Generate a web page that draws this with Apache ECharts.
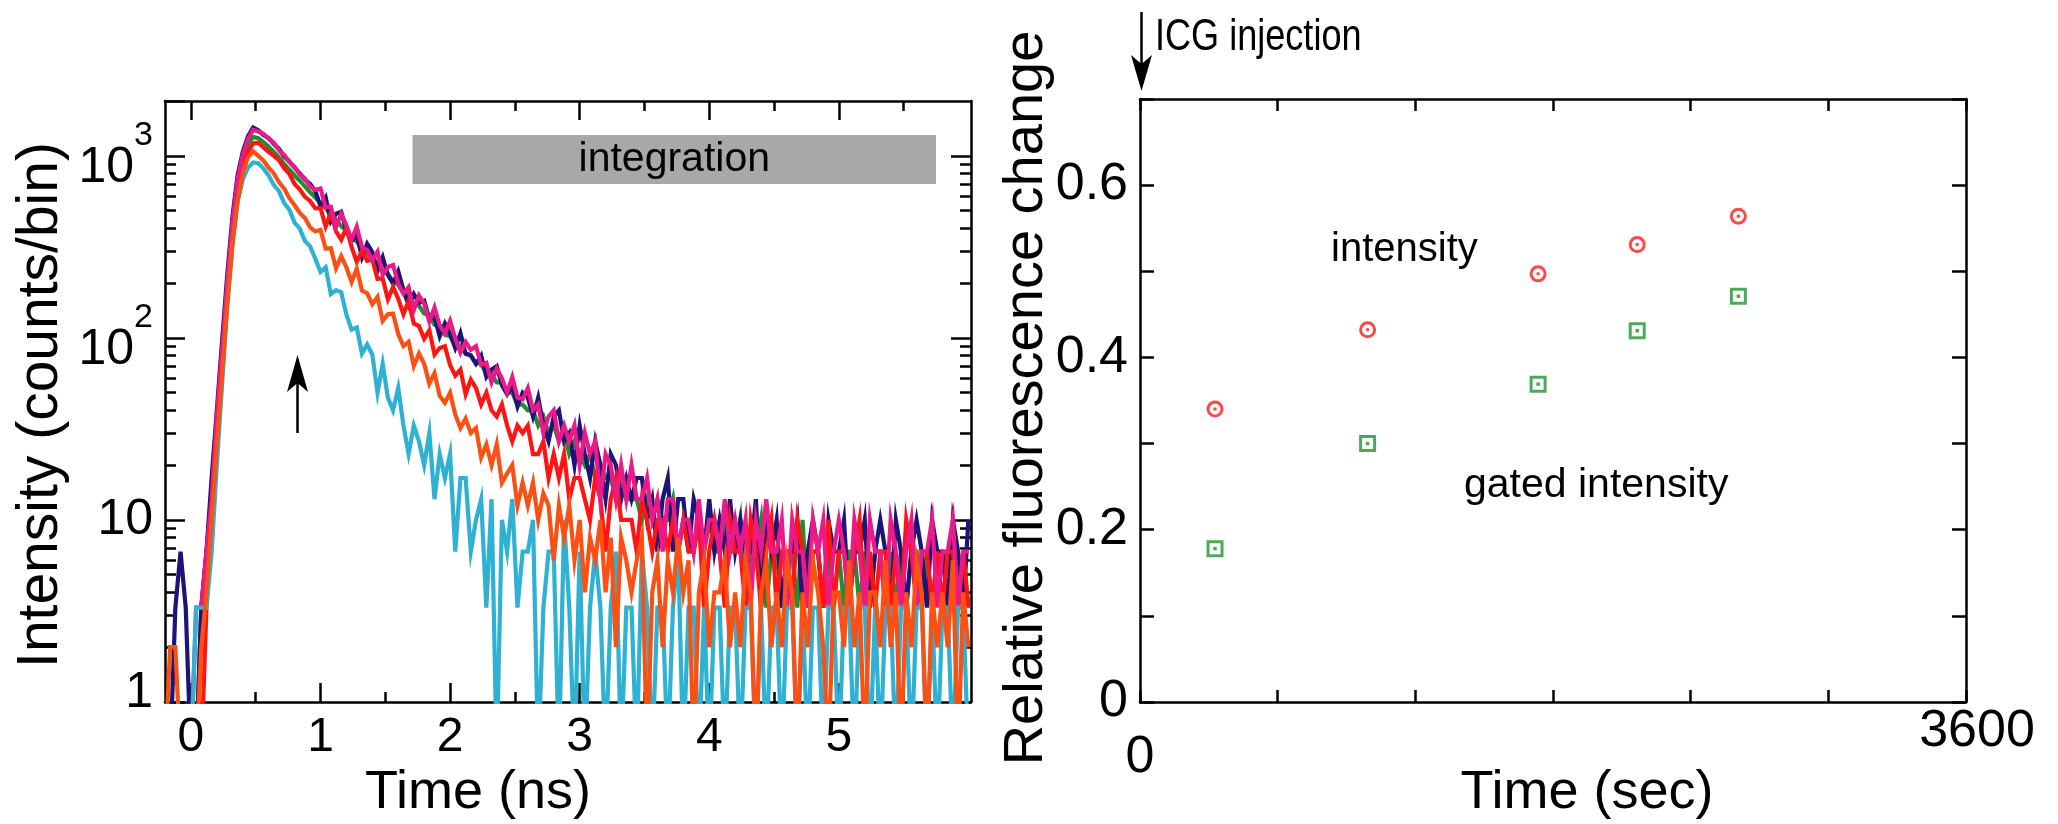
<!DOCTYPE html>
<html>
<head>
  <meta charset="UTF-8">
  <title>ICG fluorescence decay and relative change</title>
  <script src="https://cdn.jsdelivr.net/npm/echarts@6/dist/echarts.min.js"></script>
  <style>html, body { margin: 0; padding: 0; background: #fff; }</style>
</head>
<body>
  <div id="main" style="width: 2058px; height: 824px;"></div>

  <script>
    // decay histograms: counts per bin, bins start at -0.2 ns, 0.04 ns wide
    const binStart = -0.2;
    const binWidth = 0.04;

    const greenCounts = [
      0, 0, 0, 0, 0, 0, 0, 3.3, 6.7, 13,
      33, 80, 190, 400, 690, 950, 1150, 1270, 1250, 1190,
      1120, 1050, 980, 900, 840, 780, 730, 680, 630, 590,
      550, 515, 475, 445, 410, 388, 356, 338, 308, 292,
      270, 258, 234, 225, 204, 196, 176, 172, 154, 150,
      136, 133, 118, 117, 104, 102, 92, 91, 82, 80,
      72, 73, 63, 63, 57, 57, 50, 50, 43, 43,
      40, 40, 33, 37, 30, 33, 27, 30, 23, 27,
      23, 20, 23, 17, 20, 17, 17, 13, 17, 13,
      13, 13, 10, 13, 10, 13, 10, 10, 13, 6.7,
      10, 10, 6.7, 10, 6.7, 10, 6.7, 6.7, 10, 6.7,
      6.7, 10, 3.3, 6.7, 6.7, 10, 3.3, 6.7, 6.7, 3.3,
      6.7, 6.7, 3.3, 10, 3.3, 6.7, 6.7, 3.3, 6.7, 3.3,
      6.7, 3.3, 6.7, 6.7, 3.3, 6.7, 3.3, 6.7, 6.7, 3.3,
      6.7, 3.3, 6.7, 3.3, 6.7, 6.7, 3.3, 6.7, 3.3, 6.7,
      3.3, 6.7, 6.7, 3.3, 6.7, 3.3
    ];
    const navyCounts = [
      0, 0, 3.3, 6.7, 3.3, 0, 0, 3.3, 6.7, 17,
      40, 95, 220, 460, 780, 1050, 1280, 1430, 1380, 1300,
      1250, 1160, 1090, 990, 930, 860, 800, 740, 700, 640,
      529, 589, 436, 480, 492, 388, 340, 367, 277, 329,
      296, 234, 277, 221, 199, 232, 183, 151, 174, 156,
      160, 127, 130, 102, 120, 105, 88, 106, 82, 80,
      72, 80, 61, 67, 70, 55, 49, 54, 42, 50,
      47, 37, 47, 33, 27, 37, 40, 27, 30, 20,
      33, 23, 17, 27, 20, 13, 23, 20, 13, 17,
      13, 17, 17, 10, 13, 6.7, 13, 17, 6.7, 13,
      13, 6.7, 13, 10, 6.7, 13, 6.7, 10, 6.7, 13,
      6.7, 10, 6.7, 6.7, 13, 3.3, 10, 6.7, 10, 3.3,
      6.7, 6.7, 10, 3.3, 6.7, 10, 6.7, 3.3, 10, 6.7,
      6.7, 10, 3.3, 6.7, 6.7, 10, 3.3, 6.7, 10, 6.7,
      3.3, 10, 6.7, 3.3, 6.7, 10, 6.7, 3.3, 10, 6.7,
      6.7, 3.3, 10, 6.7, 3.3, 10
    ];
    const redCounts = [
      0, 0, 0, 0, 0, 0, 0, 0, 3.3, 10,
      27, 65, 160, 340, 600, 850, 1050, 1170, 1180, 1110,
      1050, 1000, 945, 855, 795, 700, 655, 595, 565, 515,
      517, 409, 486, 384, 346, 401, 316, 261, 300, 265,
      269, 211, 212, 163, 190, 164, 135, 159, 120, 116,
      99, 110, 81, 88, 90, 71, 62, 67, 49, 59,
      53, 43, 50, 40, 37, 43, 33, 27, 33, 30,
      33, 23, 23, 27, 17, 23, 17, 23, 13, 17,
      17, 13, 10, 17, 13, 6.7, 13, 17, 10, 10,
      10, 6.7, 13, 10, 6.7, 10, 10, 6.7, 10, 6.7,
      10, 6.7, 6.7, 10, 3.3, 6.7, 10, 6.7, 3.3, 10,
      6.7, 6.7, 3.3, 10, 6.7, 3.3, 6.7, 10, 3.3, 6.7,
      6.7, 3.3, 10, 6.7, 3.3, 6.7, 6.7, 3.3, 10, 3.3,
      6.7, 6.7, 3.3, 6.7, 10, 3.3, 6.7, 3.3, 6.7, 6.7,
      3.3, 6.7, 3.3, 10, 6.7, 3.3, 6.7, 6.7, 3.3, 6.7,
      3.3, 6.7, 6.7, 3.3, 6.7, 3.3
    ];
    const pinkCounts = [
      0, 0, 0, 0, 0, 0, 3.3, 3.3, 6.7, 13,
      37, 85, 200, 430, 740, 1010, 1240, 1390, 1360, 1320,
      1240, 1180, 1070, 1010, 920, 870, 790, 750, 680, 650,
      661, 522, 525, 408, 481, 414, 346, 408, 315, 304,
      267, 297, 222, 245, 251, 199, 175, 190, 142, 171,
      154, 123, 147, 117, 106, 124, 99, 83, 95, 86,
      90, 71, 73, 57, 68, 60, 50, 61, 47, 46,
      53, 40, 43, 30, 37, 40, 27, 33, 27, 33,
      20, 30, 23, 27, 13, 23, 20, 13, 20, 13,
      20, 13, 13, 17, 10, 13, 6.7, 13, 13, 6.7,
      10, 10, 6.7, 13, 6.7, 10, 10, 6.7, 13, 6.7,
      10, 6.7, 10, 3.3, 10, 6.7, 13, 6.7, 6.7, 10,
      3.3, 10, 6.7, 6.7, 3.3, 10, 6.7, 10, 3.3, 6.7,
      10, 6.7, 3.3, 10, 6.7, 3.3, 10, 6.7, 6.7, 3.3,
      10, 6.7, 3.3, 6.7, 10, 3.3, 6.7, 6.7, 10, 3.3,
      6.7, 6.7, 10, 3.3, 6.7, 6.7
    ];
    const cyanCounts = [
      0, 0, 0, 0, 0, 0, 3.3, 3.3, 3.3, 6.7,
      20, 55, 150, 330, 560, 740, 860, 920, 910, 850,
      780, 690, 640, 550, 505, 430, 398, 340, 318, 272,
      230, 244, 174, 183, 178, 134, 111, 114, 82, 92,
      81, 50, 72, 47, 40, 53, 33, 23, 33, 27,
      20, 30, 13, 23, 17, 23, 6.7, 17, 17, 6.7,
      10, 13, 3.3, 13, 0, 10, 6.7, 13, 3.3, 6.7,
      6.7, 10, 0, 3.3, 6.7, 6.7, 0, 10, 3.3, 0,
      6.7, 0, 3.3, 6.7, 3.3, 0, 3.3, 6.7, 0, 3.3,
      3.3, 0, 6.7, 3.3, 0, 3.3, 3.3, 0, 3.3, 6.7,
      0, 3.3, 3.3, 0, 3.3, 0, 3.3, 3.3, 0, 3.3,
      3.3, 0, 3.3, 3.3, 0, 3.3, 0, 3.3, 3.3, 0,
      3.3, 3.3, 0, 3.3, 0, 3.3, 3.3, 0, 3.3, 3.3,
      0, 3.3, 3.3, 0, 3.3, 3.3, 0, 3.3, 0, 3.3,
      3.3, 0, 3.3, 3.3, 0, 3.3, 3.3, 0, 3.3, 0,
      3.3, 3.3, 0, 3.3, 3.3, 0
    ];
    const orangeCounts = [
      0, 2, 2, 0, 0, 0, 0, 2, 4, 10,
      26, 62, 150, 320, 560, 800, 980, 1060, 1000, 940,
      860, 800, 715, 660, 585, 535, 486, 455, 404, 384,
      392, 309, 311, 241, 281, 244, 203, 240, 182, 176,
      153, 168, 124, 135, 136, 105, 90, 95, 70, 82,
      72, 56, 64, 48, 44, 50, 38, 32, 36, 30,
      32, 22, 26, 20, 26, 16, 18, 20, 12, 16,
      12, 16, 10, 14, 12, 6, 12, 8, 12, 6,
      10, 4, 8, 6, 10, 4, 8, 2, 8, 6,
      4, 6, 8, 0, 4, 6, 2, 6, 4, 8,
      4, 6, 0, 4, 6, 2, 4, 4, 6, 2,
      4, 2, 6, 4, 0, 4, 6, 2, 4, 2,
      6, 4, 0, 4, 2, 6, 4, 2, 0, 4,
      4, 2, 6, 2, 4, 0, 4, 4, 2, 6,
      2, 4, 0, 4, 2, 6, 4, 0, 4, 2,
      4, 2, 6, 0, 4, 2
    ];

    // tick positions of the decay plot
    const nsMajorTicks = [0, 1, 2, 3, 4, 5];
    const nsMinorTicks = [0.5, 1.5, 2.5, 3.5, 4.5, 5.5];
    const countDecades = [1, 10, 100, 1000];
    const countMinor = [2, 3, 4, 5, 6, 7, 8, 9, 20, 30, 40, 50, 60, 70, 80, 90,
      200, 300, 400, 500, 600, 700, 800, 900];

    // relative fluorescence change after injection
    const injTimeSec = [327, 992, 1735, 2167, 2608];
    const intensityChange = [0.340, 0.432, 0.497, 0.531, 0.564];
    const gatedChange = [0.178, 0.300, 0.369, 0.431, 0.471];
    const secLabels = [0, 3600];
    const changeLabels = [0, 0.2, 0.4, 0.6];

    const FONT = '"Liberation Sans", Arial, Helvetica, sans-serif';
    const countMax = 2000;
    const logTop = Math.log10(countMax);
    const line = { color: '#000', width: 2.5 };

    const traces = [
      { name: 'green', color: '#1f8f2f', counts: greenCounts },
      { name: 'navy', color: '#1c1478', counts: navyCounts },
      { name: 'red', color: '#ff1414', counts: redCounts },
      { name: 'pink', color: '#ec1a86', counts: pinkCounts },
      { name: 'cyan', color: '#2eb1d2', counts: cyanCounts },
      { name: 'orange', color: '#fa5014', counts: orangeCounts }
    ];

    const decaySeries = traces.map((t, k) => ({
      name: t.name,
      type: 'line',
      xAxisIndex: 0,
      yAxisIndex: 0,
      showSymbol: false,
      clip: true,
      lineStyle: { color: t.color, width: 4.2, join: 'miter' },
      itemStyle: { color: t.color },
      // empty bins sit under the axis floor so the trace drops out of the frame
      data: t.counts.map((v, i) => [+(binStart + i * binWidth).toFixed(2), v > 0 ? v : 0.5]),
      markArea: k === 0 ? {
        silent: true,
        itemStyle: { color: '#a8a8a8', opacity: 1 },
        label: { show: true, position: 'inside', formatter: 'integration', fontSize: 41, fontFamily: FONT, color: '#000' },
        data: [[{ xAxis: 1.71, yAxis: 1300 }, { xAxis: 5.75, yAxis: 700 }]]
      } : undefined
    }));

    const pairs = (ys) => injTimeSec.map((x, i) => [x, ys[i]]);

    function tickAxis(extra) {
      return Object.assign({
        type: 'value',
        axisLine: { show: false, onZero: false },
        axisLabel: { show: false },
        splitLine: { show: false }
      }, extra);
    }

    const logLabel = (v) => {
      const e = Math.round(Math.log10(v));
      if (Math.abs(Math.log10(v) - e) > 1e-6) return '';
      if (e === 0) return '{u|1}';
      if (e === 1) return '10';
      return '{b|10}{s|' + e + '}';
    };

    const option = {
      animation: false,
      backgroundColor: '#fff',
      textStyle: { fontFamily: FONT },
      grid: [
        { left: 165, top: 101, width: 806, height: 601, containLabel: false, outerBoundsMode: 'none' },
        { left: 1140, top: 99, width: 826, height: 603, containLabel: false, outerBoundsMode: 'none' }
      ],
      xAxis: [
        {
          gridIndex: 0, type: 'value', min: -0.2, max: 6.02, position: 'bottom',
          axisLine: { show: true, onZero: false, lineStyle: line },
          axisTick: { inside: true, length: 19, customValues: nsMajorTicks, lineStyle: line },
          axisLabel: { customValues: nsMajorTicks, fontSize: 48, color: '#000', fontFamily: FONT, margin: 12 },
          splitLine: { show: false }
        },
        tickAxis({ gridIndex: 0, min: -0.2, max: 6.02, position: 'bottom',
          axisTick: { inside: true, length: 10, customValues: nsMinorTicks, lineStyle: line } }),
        tickAxis({ gridIndex: 0, min: -0.2, max: 6.02, position: 'top',
          axisLine: { show: true, onZero: false, lineStyle: line },
          axisTick: { inside: true, length: 19, customValues: nsMajorTicks, lineStyle: line } }),
        tickAxis({ gridIndex: 0, min: -0.2, max: 6.02, position: 'top',
          axisTick: { inside: true, length: 10, customValues: nsMinorTicks, lineStyle: line } }),
        {
          gridIndex: 1, type: 'value', min: 0, max: 3600, interval: 600, position: 'bottom',
          axisLine: { show: true, onZero: false, lineStyle: line },
          axisTick: { inside: true, length: 12, lineStyle: line },
          axisLabel: {
            customValues: secLabels, fontSize: 52, color: '#000', fontFamily: FONT, margin: 4,
            formatter: (v) => v === 0 ? '{z|0}' : '{m|' + v + '}',
            rich: {
              z: { fontSize: 52, color: '#000', fontFamily: FONT, padding: [26, 0, 0, 0] },
              m: { fontSize: 52, color: '#000', fontFamily: FONT, padding: [0, 0, 0, 22] }
            }
          },
          splitLine: { show: false }
        },
        tickAxis({ gridIndex: 1, min: 0, max: 3600, interval: 600, position: 'top',
          axisLine: { show: true, onZero: false, lineStyle: line },
          axisTick: { inside: true, length: 12, lineStyle: line } })
      ],
      yAxis: [
        {
          gridIndex: 0, type: 'log', logBase: 10, min: 1, max: countMax, position: 'left',
          axisLine: { show: true, onZero: false, lineStyle: line },
          axisTick: { inside: true, length: 20, lineStyle: line },
          axisLabel: {
            formatter: logLabel, fontSize: 50, color: '#000', fontFamily: FONT, margin: 12,
            rich: {
              u: { fontSize: 50, color: '#000', fontFamily: FONT, padding: [0, 0, 18, 0] },
              b: { fontSize: 50, color: '#000', fontFamily: FONT, padding: [24, 0, 0, 0] },
              s: { fontSize: 34, color: '#000', fontFamily: FONT, verticalAlign: 'top' }
            }
          },
          splitLine: { show: false },
          minorTick: { show: false }
        },
        tickAxis({ gridIndex: 0, min: 0, max: logTop, position: 'left',
          axisTick: { inside: true, length: 11, customValues: countMinor.map(Math.log10), lineStyle: line } }),
        tickAxis({ gridIndex: 0, min: 0, max: logTop, position: 'right',
          axisLine: { show: true, onZero: false, lineStyle: line },
          axisTick: { inside: true, length: 20, customValues: countDecades.map(Math.log10), lineStyle: line } }),
        tickAxis({ gridIndex: 0, min: 0, max: logTop, position: 'right',
          axisTick: { inside: true, length: 11, customValues: countMinor.map(Math.log10), lineStyle: line } }),
        {
          gridIndex: 1, type: 'value', min: 0, max: 0.7, interval: 0.1, position: 'left',
          axisLine: { show: true, onZero: false, lineStyle: line },
          axisTick: { inside: true, length: 14, lineStyle: line },
          axisLabel: { customValues: changeLabels, fontSize: 52, color: '#000', fontFamily: FONT, margin: 12 },
          splitLine: { show: false }
        },
        tickAxis({ gridIndex: 1, min: 0, max: 0.7, interval: 0.1, position: 'right',
          axisLine: { show: true, onZero: false, lineStyle: line },
          axisTick: { inside: true, length: 14, lineStyle: line } })
      ],
      series: decaySeries.concat([
        {
          name: 'intensity', type: 'scatter', xAxisIndex: 4, yAxisIndex: 4,
          symbol: 'circle', symbolSize: 14,
          itemStyle: { color: '#fff', borderColor: '#ff1a1a', borderWidth: 3 },
          data: pairs(intensityChange)
        },
        {
          name: 'intensity centre', type: 'scatter', xAxisIndex: 4, yAxisIndex: 4,
          symbol: 'circle', symbolSize: 3.5, itemStyle: { color: '#ff1a1a' },
          data: pairs(intensityChange)
        },
        {
          name: 'gated intensity', type: 'scatter', xAxisIndex: 4, yAxisIndex: 4,
          symbol: 'rect', symbolSize: 14,
          itemStyle: { color: '#fff', borderColor: '#1e9632', borderWidth: 3 },
          data: pairs(gatedChange)
        },
        {
          name: 'gated centre', type: 'scatter', xAxisIndex: 4, yAxisIndex: 4,
          symbol: 'rect', symbolSize: 3.5, itemStyle: { color: '#1e9632' },
          data: pairs(gatedChange)
        }
      ]),
      graphic: [
        { type: 'text', x: 41, y: 405, rotation: Math.PI / 2,
          style: { text: 'Intensity (counts/bin)', font: '57px ' + FONT, fill: '#000', textAlign: 'center', textVerticalAlign: 'middle' } },
        { type: 'text', x: 478, y: 793,
          style: { text: 'Time (ns)', font: '54px ' + FONT, fill: '#000', textAlign: 'center', textVerticalAlign: 'middle' } },
        { type: 'text', x: 1027, y: 398, rotation: Math.PI / 2,
          style: { text: 'Relative fluorescence change', font: '56px ' + FONT, fill: '#000', textAlign: 'center', textVerticalAlign: 'middle' } },
        { type: 'text', x: 1587, y: 793,
          style: { text: 'Time (sec)', font: '54px ' + FONT, fill: '#000', textAlign: 'center', textVerticalAlign: 'middle' } },
        { type: 'text', x: 1155, y: 38, scaleX: 0.82,
          style: { text: 'ICG injection', font: '44px ' + FONT, fill: '#000', textAlign: 'left', textVerticalAlign: 'middle' } },
        { type: 'text', x: 1331, y: 250,
          style: { text: 'intensity', font: '40px ' + FONT, fill: '#000', textAlign: 'left', textVerticalAlign: 'middle' } },
        { type: 'text', x: 1464, y: 486,
          style: { text: 'gated intensity', font: '41px ' + FONT, fill: '#000', textAlign: 'left', textVerticalAlign: 'middle' } },
        // injection marker
        { type: 'line', shape: { x1: 1141.5, y1: 12, x2: 1141.5, y2: 70 }, style: { stroke: '#000', lineWidth: 2.5 } },
        { type: 'polygon', shape: { points: [[1141.5, 91], [1131, 55], [1141.5, 64], [1152, 55]] }, style: { fill: '#000' } },
        // arrow in the decay plot
        { type: 'line', shape: { x1: 297.5, y1: 433, x2: 297.5, y2: 375 }, style: { stroke: '#000', lineWidth: 2.5 } },
        { type: 'polygon', shape: { points: [[297.5, 355], [287, 392], [297.5, 383], [308, 392]] }, style: { fill: '#000' } }
      ]
    };

    const chart = echarts.init(document.getElementById('main'));
    chart.setOption(option);
  </script>
</body>
</html>
